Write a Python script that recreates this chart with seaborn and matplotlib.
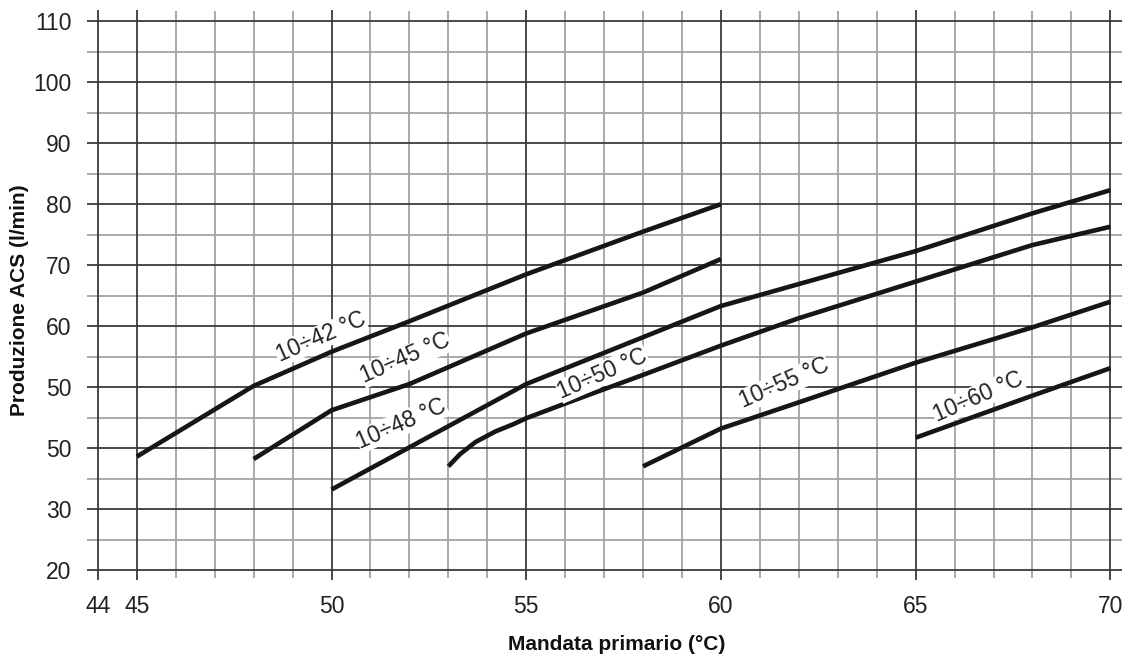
import numpy as np
import pandas as pd
import matplotlib
matplotlib.use("Agg")
import matplotlib.pyplot as plt
import seaborn as sns

# ---- data ----
curve_names = ["10÷42 °C", "10÷45 °C", "10÷48 °C", "10÷50 °C", "10÷55 °C", "10÷60 °C"]
x_42 = [45, 48, 50, 52, 55, 58, 60]
y_42 = [38.6, 50.2, 55.8, 60.8, 68.5, 75.5, 80.0]
x_45 = [48, 50, 52, 55, 58, 60]
y_45 = [38.2, 46.2, 50.5, 58.8, 65.5, 71.0]
x_48 = [50, 55, 60, 65, 68, 70]
y_48 = [33.2, 50.5, 63.3, 72.3, 78.5, 82.3]
x_50 = [53, 53.3, 53.7, 54.2, 54.7, 55, 56, 58, 60, 62, 65, 68, 70]
y_50 = [37.0, 39.0, 41.0, 42.7, 44.0, 44.9, 47.3, 52.0, 56.8, 61.3, 67.3, 73.3, 76.3]
x_55 = [58, 60, 62, 65, 68, 70]
y_55 = [37.0, 43.2, 47.5, 54.0, 59.8, 64.0]
x_60 = [65, 68, 70]
y_60 = [41.7, 48.6, 53.1]

label_x = [49.72, 51.9, 51.8, 56.96, 61.63, 66.6]
label_y = [58.2, 54.7, 44.0, 52.2, 50.6, 48.4]

x_major = [44, 45, 50, 55, 60, 65, 70]
x_major_labels = ["44", "45", "50", "55", "60", "65", "70"]
y_major = [20, 30, 40, 50, 60, 70, 80, 90, 100, 110]
y_major_labels = ["20", "30", "50", "50", "60", "70", "80", "90", "100", "110"]

x_label = "Mandata primario (°C)"
y_label = "Produzione ACS (l/min)"

# ---- build table ----
xs = [x_42, x_45, x_48, x_50, x_55, x_60]
ys = [y_42, y_45, y_48, y_50, y_55, y_60]
df = pd.concat(
    [pd.DataFrame({"x": a, "y": b, "curve": n}) for a, b, n in zip(xs, ys, curve_names)],
    ignore_index=True,
)

sns.set_theme(style="white")
plt.rcParams["font.family"] = ["Liberation Sans", "DejaVu Sans"]

W, H = 1123, 659
fig = plt.figure(figsize=(W / 100, H / 100), dpi=100)
left_px, right_px, top_px, bot_px = 87, 1122, 10, 580
ax = fig.add_axes([left_px / W, 1 - bot_px / H, (right_px - left_px) / W, (bot_px - top_px) / H])

xmin, xmax = 43.72, 70.3
ymin, ymax = 18.36, 111.85
ax.set_xlim(xmin, xmax)
ax.set_ylim(ymin, ymax)

minor_col = "#a3a3a3"
major_col = "#3a3a3a"
# minor grid
for v in np.arange(46, 71, 1):
    if v not in x_major:
        ax.vlines(v, ymin + 0.3, ymax - 0.1, color=minor_col, lw=1.3, zorder=1)
for h in np.arange(25, 111, 10):
    ax.hlines(h, xmin, xmax, color=minor_col, lw=1.3, zorder=1)
# major grid
for v in x_major:
    ax.vlines(v, ymin, ymax, color=major_col, lw=1.3, zorder=2)
for h in y_major:
    ax.hlines(h, xmin, xmax, color=major_col, lw=1.3, zorder=2)

sns.lineplot(data=df, x="x", y="y", units="curve", estimator=None, sort=False,
             color="#161616", lw=3.3, ax=ax, legend=False, zorder=5,
             solid_capstyle="butt", solid_joinstyle="round")

for name, lx, ly in zip(curve_names, label_x, label_y):
    ax.text(lx, ly, name, rotation=23.5, ha="center", va="center", fontsize=16.5,
            color="#222222", zorder=6,
            bbox=dict(facecolor="white", edgecolor="none", pad=0.3))

for s in ax.spines.values():
    s.set_visible(False)

ax.set_xticks(x_major)
ax.set_xticklabels(x_major_labels)
ax.set_yticks(y_major)
ax.set_yticklabels(y_major_labels)
ax.tick_params(axis="both", length=0, labelsize=16.5, colors="#222222")
ax.tick_params(axis="x", pad=11)
ax.tick_params(axis="y", pad=11)

ax.set_xlabel(x_label, fontsize=15, fontweight="bold", color="#111111")
ax.set_ylabel(y_label, fontsize=15, fontweight="bold", color="#111111")
ax.xaxis.set_label_coords((617 - left_px) / (right_px - left_px), -(645 - bot_px) / (bot_px - top_px))
ax.xaxis.label.set_va("center")
ax.yaxis.set_label_coords(-(left_px - 20) / (right_px - left_px), (bot_px - 300) / (bot_px - top_px))
ax.yaxis.label.set_va("center")

fig.savefig("out.png", dpi=100)
